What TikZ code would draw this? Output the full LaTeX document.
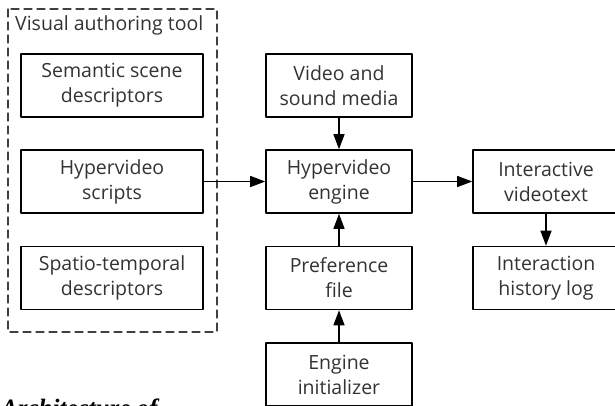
\documentclass[tikz,border=0pt]{standalone}
\usepackage{fontspec}
\setmainfont{Open Sans}
\newfontfamily\captionserif{Liberation Serif}
\usetikzlibrary{arrows.meta}

\begin{document}
\begin{tikzpicture}[x=1pt, y=-1pt, line cap=round, line join=round,
		unit/.style={draw, line width=1.6pt, minimum height=63pt, inner sep=0pt, align=center,
			font=\fontsize{19.5}{25}\selectfont, text=black!80},
		widebox/.style={unit, minimum width=182pt},
		narrowbox/.style={unit, minimum width=146pt},
		flow/.style={line width=1.4pt, -{Triangle[length=15pt,width=11pt]}}]
		\clip (0,0) rectangle (615,405);
		% authoring tool frame
		\draw[dash pattern=on 8pt off 5pt, line width=1.3pt, black!75] (8,9) rectangle (217,332);
		\node[anchor=west, inner sep=0pt, font=\fontsize{19.5}{25}\selectfont, text=black!80] (tooltitle) at (15,25) {Visual authoring tool};
		\node[widebox] (semantic) at (112,85.5) {Semantic scene\\descriptors};
		\node[widebox] (scripts) at (112,181.5) {Hypervideo\\scripts};
		\node[widebox] (spatio) at (112,278) {Spatio-temporal\\descriptors};
		% engine column
		\node[narrowbox] (media) at (339,85.5) {Video and\\sound media};
		\node[narrowbox] (engine) at (339,181.5) {Hypervideo\\engine};
		\node[narrowbox] (pref) at (339,278) {Preference\\file};
		\node[narrowbox] (init) at (339,374.5) {Engine\\initializer};
		% output column
		\node[narrowbox] (videotext) at (546,181.5) {Interactive\\videotext};
		\node[narrowbox] (history) at (546,278) {Interaction\\history log};
		\draw[flow] (scripts) -- (engine);
		\draw[flow] (media) -- (engine);
		\draw[flow] (init) -- (pref);
		\draw[flow] (pref) -- (engine);
		\draw[flow] (engine) -- (videotext);
		\draw[flow] (videotext) -- (history);
		\node[anchor=base west, inner sep=0pt, font=\captionserif\fontsize{25}{28}\selectfont\bfseries\itshape] (caption) at (1,416) {Architecture of};
	\end{tikzpicture}
\end{document}
